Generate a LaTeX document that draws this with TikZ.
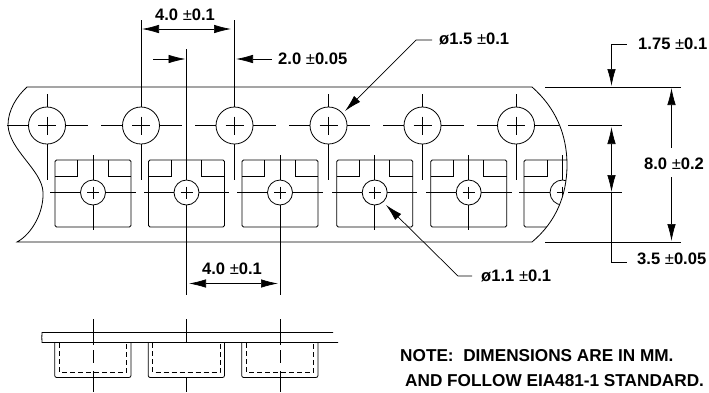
\documentclass[tikz,border=0pt]{standalone}
\usepackage{fontspec}
\setmainfont{Liberation Sans}
\usetikzlibrary{arrows.meta}
\tikzset{
  thin line/.style={line width=0.7pt,black},
  dim/.style={line width=0.7pt,{Latex[length=17pt,width=8.5pt]}-{Latex[length=17pt,width=8.5pt]}},
  dimto/.style={line width=0.7pt,-{Latex[length=17pt,width=8.5pt]}},
  dimback/.style={line width=0.7pt,{Latex[length=17pt,width=8.5pt]}-},
  tape/.style={line width=0.8pt},
  hole/.style={draw,circle,tape,fill=white,minimum size=37pt,inner sep=0pt},
  pin/.style={draw,circle,tape,fill=white,minimum size=25pt,inner sep=0pt},
  label/.style={font=\bfseries\fontsize{16.6}{18}\selectfont,inner sep=0pt},
  note/.style={font=\bfseries\fontsize{17.2}{18}\selectfont,inner sep=0pt,anchor=base west},
}
\newcommand{\pmthin}{{\mdseries ±}}
\newcommand{\tapepath}{(17,242) .. controls (32,234) and (44,212) .. (43,192)
    .. controls (42,170) and (9,150) .. (8,125)
    .. controls (8,110) and (17,96) .. (27,87) -- (532,87)
    .. controls (556,108) and (567,135) .. (567,165)
    .. controls (567,195) and (556,222) .. (532,242) -- cycle}
\begin{document}
\begin{tikzpicture}[x=1pt,y=-1pt]
  \useasboundingbox (0,0) rectangle (709,392);
  % centre lines
  \foreach \a/\b in {7/88,101/182,195/276,289/370,383/464,477/559,568/622}
    \draw[thin line] (\a,125.5) -- (\b,125.5);
  \foreach \a/\b in {50/136,144/229,237/323,332/417,426/512,519/564,568/622}
    \draw[thin line] (\a,192.5) -- (\b,192.5);
  % sprocket holes
  \foreach \x/\n in {47/a,141/b,234.5/c,328.5/d,422.5/e,516/f} {
    \draw[thin line] (\x,94) -- (\x,180);
    \node[hole] (hole\n) at (\x,125.5) {};
    \draw[thin line] (\x-9,125.5) -- (\x+9,125.5) (\x,116.5) -- (\x,134.5);
  }
  \draw[thin line] (141,20) -- (141,94);
  \draw[thin line] (234.5,20) -- (234.5,94);
  % pockets
  \foreach \x/\n in {93/a,186.5/b,280/c,374.7/d,468.7/e} {
    \draw[tape,rounded corners=1.5pt] (\x-38,227) -- (\x-38,160) -- (\x+38,160) -- (\x+38,227) -- cycle;
    \draw[tape] (\x-38,176.7) -- (\x-15.5,176.7) -- (\x-15.5,160);
    \draw[tape] (\x+38,176.7) -- (\x+15,176.7) -- (\x+15,160);
    \draw[thin line] (\x,155) -- (\x,230);
    \node[pin] (pin\n) at (\x,192.5) {};
    \draw[thin line] (\x-6,192.5) -- (\x+6,192.5) (\x,186.5) -- (\x,198.5);
  }
  % last pocket, cut by the tape end
  \begin{scope}
    \clip \tapepath;
    \draw[tape,rounded corners=1.5pt] (580,160) -- (524,160) -- (524,227) -- (580,227);
    \draw[tape] (524,176.7) -- (547,176.7) -- (547,160);
    \draw[thin line] (562.5,155) -- (562.5,230);
    \node[pin] (pinf) at (562.5,192.5) {};
    \draw[thin line] (556.5,192.5) -- (568.5,192.5) (562.5,186.5) -- (562.5,198.5);
  \end{scope}
  % tape outline
  \draw[tape] \tapepath;
  % dimensions
  \draw[thin line] (186.5,49) -- (186.5,155);
  \draw[thin line] (186.5,230) -- (186.5,295);
  \draw[thin line] (280,230) -- (280,295);
  \draw[thin line] (545,87) -- (681,87);
  \draw[thin line] (545,242) -- (681,242);
  \node[label] (pitch) at (185,15) {4.0 \pmthin0.1};
  \coordinate (pl) at (142,29);
  \coordinate (pr) at (231,29);
  \draw[dim] (pl) -- (pr);
  \coordinate (hl) at (153,59);
  \coordinate (hm) at (185.5,59);
  \draw[dimto] (hl) -- (hm);
  \node[label,anchor=west] (half) at (278,59) {2.0 \pmthin0.05};
  \coordinate (hr) at (236,59);
  \coordinate (hs) at (272,59);
  \draw[dimback] (hr) -- (hs);
  \node[label,anchor=west] (dhole) at (439,39) {ø1.5 \pmthin0.1};
  \coordinate (dh) at (345,111);
  \draw[dimback] (dh) -- (416,40) -- (432,40);
  \node[label,anchor=west] (edge) at (638,44) {1.75 \pmthin0.1};
  \coordinate (et) at (611.5,86);
  \draw[dimback] (et) -- (611.5,44.5) -- (627,44.5);
  \node[label] (width) at (674,163.5) {8.0 \pmthin0.2};
  \coordinate (wt) at (671.5,88);
  \coordinate (wb) at (671.5,241);
  \draw[dimback] (wt) -- (671.5,148);
  \draw[dimto] (671.5,177) -- (wb);
  \node[label,anchor=west] (row) at (637,259) {3.5 \pmthin0.05};
  \coordinate (rt) at (611.5,127);
  \coordinate (rb) at (611.5,192);
  \draw[dim] (rt) -- (rb);
  \draw[thin line] (rb) -- (611.5,262) -- (627,262);
  \node[label,anchor=west] (dpin) at (481,276) {ø1.1 \pmthin0.1};
  \coordinate (dp) at (386,205);
  \draw[dimback] (dp) -- (458,276) -- (472,276);
  \node[label] (pocket) at (232,269) {4.0 \pmthin0.1};
  \coordinate (ql) at (189,283.5);
  \coordinate (qr) at (278,283.5);
  \draw[dim] (ql) -- (qr);
  % side view
  \draw[tape] (333,332.5) -- (42,332.5) .. controls (41,336) and (42.5,339) .. (42,342.5) -- (338,342.5);
  \foreach \x/\n in {93/a,186.5/b,280/c} {
    \draw[tape,rounded corners=2pt] (\x-38.3,342.5) -- (\x-38.3,377.5) -- (\x+38,377.5) -- (\x+38,342.5);
    \draw[thin line,dash pattern=on 5pt off 3pt] (\x-34,343) -- (\x-34,372) -- (\x+33.5,372) -- (\x+33.5,343);
    \draw[thin line] (\x,319) -- (\x,342.5);
    \draw[thin line] (\x,377.5) -- (\x,392);
  }
  \foreach \x in {93,280} {
    \draw[thin line] (\x,342.5) -- (\x,345);
    \draw[thin line] (\x,350) -- (\x,363);
    \draw[thin line] (\x,371) -- (\x,378);
  }
  % note
  \node[note] (noteone) at (400,361.5) {NOTE:\ \ DIMENSIONS ARE IN MM.};
  \node[note] (notetwo) at (405,386.7) {AND FOLLOW EIA481-1 STANDARD.};
\end{tikzpicture}
\end{document}
